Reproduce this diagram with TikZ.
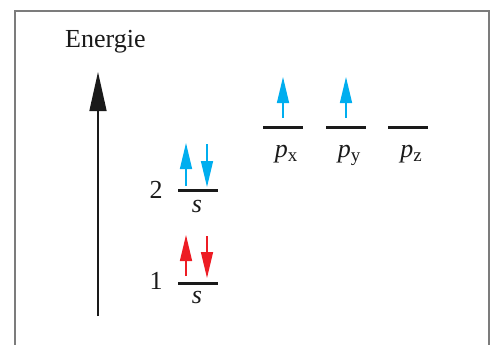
\documentclass[tikz,border=0pt]{standalone}
\usepackage{fontspec}
\setmainfont{Liberation Serif}
\usetikzlibrary{arrows.meta,positioning}
\definecolor{Ink}{HTML}{1A1A1A}
\definecolor{Spin}{HTML}{00AEEF}
\definecolor{Core}{HTML}{ED1C24}
\definecolor{Rim}{HTML}{7C7C7C}

\begin{document}
\begin{tikzpicture}[x=1pt,y=-1pt,
    level/.style={Ink,line width=3pt},
    spin/.style={line width=1.5pt,-{Triangle[length=26pt,width=12pt]}},
    lbl/.style={Ink,inner sep=0pt,anchor=base,font=\fontsize{26}{26}\selectfont}]
  \useasboundingbox (0,0) rectangle (490,345);
  \draw[Rim,line width=2pt] (15,345) |- (488.5,11) -- (488.5,345);

  % energy axis
  \node[lbl,anchor=base west] (energie) at (65,48) {Energie};
  \coordinate (axbot) at (98,316);
  \coordinate (axtop) at (98,72);
  \draw[Ink,line width=1.5pt,-{Triangle[length=39pt,width=17pt]}] (axbot) -- (axtop);

  % 1s
  \draw[level] (178,283) coordinate (s1l) -- (218,283) coordinate (s1r);
  \node[lbl] (n1) at (156,289) {1};
  \node[lbl] (s1) at (197,303) {\itshape s};
  \draw[spin,Core] (186,276) coordinate (u1) -- (186,235);
  \draw[spin,Core] (207,236) coordinate (d1) -- (207,278);

  % 2s
  \draw[level] (178,190) coordinate (s2l) -- (218,190) coordinate (s2r);
  \node[lbl] (n2) at (156,198) {2};
  \node[lbl] (s2) at (197,212) {\itshape s};
  \draw[spin,Spin] (186,186) coordinate (u2) -- (186,143);
  \draw[spin,Spin] (207,144) coordinate (d2) -- (207,187);

  % 2p
  \foreach \name/\xl/\sub in {px/263/x,py/326/y,pz/388/z}{
    \draw[level] (\xl,127) -- +(40,0);
    \node[lbl] (\name) at ([xshift=23pt]\xl,157) {\itshape p\raisebox{-4pt}{\fontsize{19}{19}\selectfont\upshape\sub}};
  }
  \draw[spin,Spin] (283,118) -- (283,77);
  \draw[spin,Spin] (346,118) -- (346,77);
\end{tikzpicture}
\end{document}
